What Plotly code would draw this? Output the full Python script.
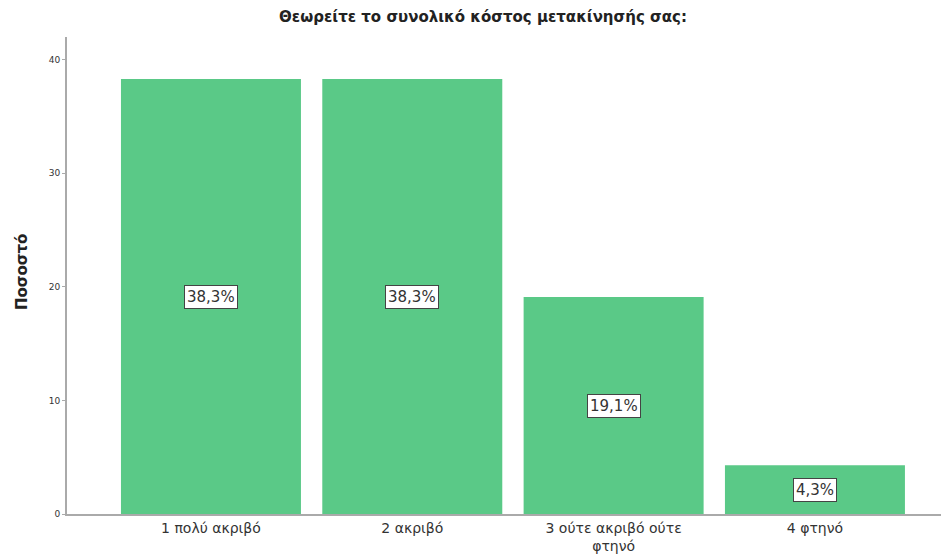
import plotly.graph_objects as go

categories = ["1 πολύ ακριβό", "2 ακριβό", "3 ούτε ακριβό ούτε<br>φτηνό", "4 φτηνό"]
values = [38.3, 38.3, 19.1, 4.3]
labels = ["38,3%", "38,3%", "19,1%", "4,3%"]
tick_vals = [0, 10, 20, 30, 40]

FONT = "DejaVu Sans, Liberation Sans, Arial, sans-serif"
x_idx = list(range(len(categories)))

# page has an 8px body margin; figure sized to fit the 949x560 window
W, H = 941, 552
OFF = 8

fig = go.Figure()
fig.add_trace(go.Bar(
    x=x_idx, y=values, width=0.894,
    marker=dict(color="#5ac987", line=dict(width=0)),
    hoverinfo="skip",
))
for xi, v, lab in zip(x_idx, values, labels):
    fig.add_annotation(
        x=xi, y=v / 2, text=lab, showarrow=False,
        font=dict(family=FONT, size=15, color="#333333"),
        bgcolor="white", bordercolor="#444444", borderwidth=1, borderpad=2,
    )

fig.add_annotation(
    xref="paper", yref="paper", x=(22 - OFF - 59) / (W - 59 - 4), y=(514 - 272) / (514 - 37),
    text="<b>Ποσοστό</b>", textangle=-90, showarrow=False,
    xanchor="center", yanchor="middle",
    font=dict(family=FONT, size=15, color="#222222"),
)

fig.update_layout(
    width=W, height=H,
    paper_bgcolor="white", plot_bgcolor="white",
    margin=dict(l=67 - OFF, r=4, t=37 - OFF, b=46, autoexpand=False),
    showlegend=False,
    title=dict(text="<b>Θεωρείτε το συνολικό κόστος μετακίνησής σας:</b>",
               x=(483 - OFF) / W, xanchor="center", y=1 - (17 - OFF) / H, yanchor="middle",
               font=dict(family=FONT, size=15, color="#222222")),
    font=dict(family=FONT),
)
fig.update_xaxes(
    range=[-0.715, 3.646], tickmode="array", tickvals=x_idx, ticktext=categories,
    showline=True, linecolor="#aaaaaa", linewidth=2, showgrid=False, zeroline=False,
    ticks="", tickfont=dict(family=FONT, size=14, color="#333333"), automargin=False,
)
fig.update_yaxes(
    range=[0, 42], tickmode="array", tickvals=tick_vals,
    showline=True, linecolor="#aaaaaa", linewidth=2, showgrid=False, zeroline=False,
    ticks="outside", ticklen=3, tickcolor="#aaaaaa",
    tickfont=dict(family=FONT, size=9, color="#333333"), automargin=False,
)

fig.write_html("out.html")
